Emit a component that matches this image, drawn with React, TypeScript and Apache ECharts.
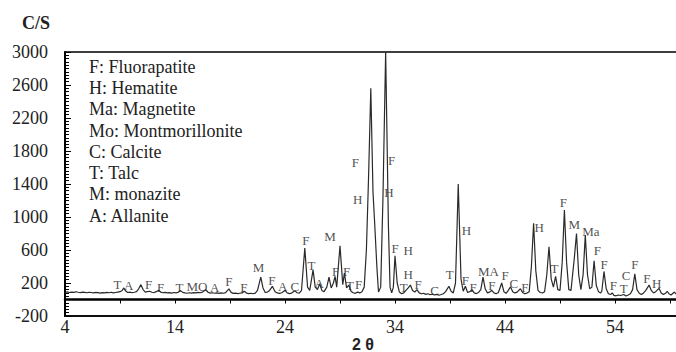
import React, { useEffect, useRef } from "react";
import * as echarts from "echarts";

const twoTheta = [
  4.0, 4.2, 4.4, 4.6, 4.8, 5.0, 5.2, 5.4, 5.6, 5.8, 6.0, 6.2, 6.4, 6.6, 6.8, 7.0, 7.2, 7.4, 7.6, 7.8,
  8.0, 8.2, 8.4, 8.6, 8.8, 9.0, 9.2, 9.35, 9.5, 9.7, 9.9, 10.1, 10.3, 10.5, 10.7, 10.9, 11.1, 11.3, 11.5, 11.7,
  11.9, 12.1, 12.3, 12.5, 12.7, 12.9, 13.1, 13.3, 13.5, 13.7, 13.9, 14.1, 14.3, 14.5, 14.7, 14.9, 15.1, 15.3, 15.5, 15.7,
  15.9, 16.1, 16.3, 16.5, 16.8, 17.0, 17.2, 17.4, 17.6, 17.8, 18.0, 18.2, 18.4, 18.6, 18.9, 19.1, 19.3, 19.5, 19.7, 19.9,
  20.1, 20.3, 20.5, 20.7, 20.9, 21.1, 21.3, 21.5, 21.8, 22.0, 22.2, 22.4, 22.6, 22.85, 23.1, 23.3, 23.5, 23.7, 24.0, 24.2,
  24.4, 24.6, 24.9, 25.1, 25.3, 25.5, 25.8, 26.05, 26.25, 26.55, 26.75, 26.95, 27.15, 27.35, 27.55, 27.8, 28.0, 28.2, 28.4, 28.55,
  28.7, 29.0, 29.25, 29.4, 29.6, 29.8, 30.0, 30.2, 30.4, 30.6, 30.8, 31.0, 31.2, 31.4, 31.6, 31.8, 32.0, 32.15, 32.35, 32.5,
  32.7, 32.9, 33.15, 33.4, 33.55, 33.7, 33.85, 34.0, 34.2, 34.4, 34.6, 34.8, 35.0, 35.2, 35.4, 35.6, 35.8, 36.0, 36.2, 36.4,
  36.6, 36.8, 37.0, 37.2, 37.4, 37.6, 37.8, 38.0, 38.2, 38.4, 38.6, 38.9, 39.1, 39.3, 39.5, 39.75, 40.0, 40.2, 40.4, 40.6,
  40.8, 41.0, 41.2, 41.4, 41.6, 41.8, 42.0, 42.2, 42.4, 42.6, 42.8, 43.0, 43.2, 43.4, 43.7, 43.9, 44.1, 44.3, 44.5, 44.7,
  44.9, 45.1, 45.4, 45.6, 45.8, 46.0, 46.2, 46.4, 46.6, 46.8, 47.0, 47.2, 47.4, 47.6, 47.8, 48.0, 48.2, 48.4, 48.6, 48.8,
  49.0, 49.2, 49.4, 49.6, 49.8, 50.0, 50.3, 50.5, 50.7, 50.9, 51.1, 51.3, 51.5, 51.7, 51.9, 52.1, 52.3, 52.5, 52.7, 52.8,
  53.0, 53.2, 53.4, 53.6, 53.75, 53.9, 54.1, 54.3, 54.5, 54.8, 55.0, 55.2, 55.4, 55.6, 55.8, 56.0, 56.2, 56.4, 56.6, 56.8,
  57.1, 57.3, 57.5, 57.7, 58.0, 58.2, 58.4, 58.6, 58.75, 58.9, 59.1, 59.4, 59.6, 59.8, 60.0,
];

const counts = [
  88, 92, 85, 90, 86, 94, 88, 84, 90, 87, 82, 88, 85, 80, 86, 83, 78, 84, 80, 86,
  82, 88, 80, 85, 90, 95, 110, 140, 105, 85, 90, 82, 88, 95, 130, 180, 120, 90, 95, 100,
  88, 84, 95, 112, 90, 82, 86, 80, 84, 78, 85, 80, 88, 108, 86, 80, 76, 82, 78, 84,
  80, 86, 82, 90, 118, 88, 78, 82, 76, 80, 74, 80, 76, 84, 130, 86, 74, 78, 72, 76,
  80, 100, 78, 72, 76, 70, 78, 110, 270, 140, 85, 90, 110, 160, 95, 80, 74, 82, 110, 80,
  72, 78, 105, 82, 78, 110, 625, 150, 110, 360, 150, 120, 190, 110, 95, 150, 270, 140, 200, 280,
  150, 650, 180, 320, 140, 175, 100, 82, 75, 90, 80, 95, 150, 600, 1500, 2560, 1300, 930, 400, 90,
  150, 1200, 3000, 900, 150, 80, 150, 530, 200, 90, 70, 80, 110, 140, 175, 110, 90, 120, 80, 70,
  75, 62, 70, 58, 65, 55, 62, 52, 60, 70, 95, 160, 100, 80, 200, 1400, 250, 100, 160, 85,
  95, 120, 80, 72, 85, 120, 270, 130, 80, 90, 110, 80, 70, 85, 200, 95, 75, 110, 155, 95,
  80, 90, 130, 85, 70, 78, 95, 400, 925, 350, 110, 85, 80, 95, 300, 640, 250, 150, 280, 120,
  110, 450, 1085, 450, 120, 110, 500, 800, 300, 120, 300, 780, 300, 130, 150, 470, 170, 95, 80, 100,
  340, 130, 70, 60, 80, 50, 45, 55, 48, 60, 42, 55, 70, 120, 310, 120, 75, 60, 80, 110,
  175, 110, 80, 95, 135, 80, 60, 75, 100, 70, 55, 90, 60, 55, 50,
];

const peakLabelText = [
  "T", "A", "F", "F", "T", "MO", "A", "F", "F", "M", "F", "A", "C", "F", "T", "A", "M", "F", "F", "T", "F",
  "F", "H", "F", "H", "F", "H", "H", "T", "F", "C", "T", "H", "F", "F",
  "MA", "F", "F", "C", "F", "H", "T", "F", "M", "Ma", "F", "F", "F", "T", "C", "F", "F", "H",
];
const peakLabelTheta = [
  8.76, 9.8, 11.6, 12.7, 14.4, 16.0, 17.6, 18.9, 20.27, 21.6, 22.8, 23.8, 24.9, 25.9, 26.4, 27.1, 28.1, 28.6, 29.6, 29.9, 30.7,
  30.4, 30.6, 33.7, 33.45, 34.0, 35.2, 35.2, 34.8, 36.1, 37.6, 38.97, 40.5, 40.4, 41.1,
  42.5, 44.0, 42.8, 44.8, 45.8, 47.1, 48.5, 49.3, 50.3, 51.8, 52.4, 53.0, 53.85, 54.8, 55.0, 55.8, 56.9, 57.8,
];
const peakLabelCount = [
  184, 167, 176, 148, 148, 155, 140, 216, 148, 390, 236, 155, 155, 713, 418, 196, 761, 337, 337, 164, 184,
  1663, 1218, 1683, 1300, 620, 600, 297, 148, 176, 107, 309, 842, 236, 148,
  337, 285, 167, 188, 148, 875, 378, 1174, 915, 830, 592, 427, 164, 128, 290, 430, 257, 188,
];

const legendLines = [
  "F: Fluorapatite",
  "H: Hematite",
  "Ma: Magnetite",
  "Mo: Montmorillonite",
  "C: Calcite",
  "T: Talc",
  "M: monazite",
  "A: Allanite",
];

const xTickLabels = [4, 14, 24, 34, 44, 54];

export default function App() {
  const ref = useRef<HTMLDivElement>(null);
  useEffect(() => {
    if (!ref.current) return;
    const chart = echarts.init(ref.current, undefined, { renderer: "svg" });
    const serif = "Liberation Serif, DejaVu Serif, serif";
    const option: any = {
      animation: false,
      backgroundColor: "#fff",
      textStyle: { fontFamily: serif },
      grid: {
        left: 65,
        right: -5,
        top: 52,
        bottom: 36,
        show: true,
        borderColor: "#000",
        borderWidth: 1.5,
        containLabel: false,
        outerBoundsMode: "none",
      },
      xAxis: [
        {
          type: "value",
          min: 4,
          max: 60,
          interval: 5,
          axisLine: { show: true, onZero: true, lineStyle: { color: "#000", width: 2.5 } },
          axisTick: { show: true, inside: false, length: 4, lineStyle: { color: "#000", width: 1 } },
          axisLabel: { show: false },
          splitLine: { show: false },
        },
        {
          type: "value",
          min: 4,
          max: 60,
          interval: 10,
          position: "bottom",
          axisLine: { show: true, onZero: false, lineStyle: { color: "#000", width: 1.5 } },
          axisTick: { show: false },
          axisLabel: {
            show: true,
            fontSize: 18,
            fontFamily: serif,
            color: "#222",
            margin: 2,
            formatter: (v: number) => (xTickLabels.includes(v) ? String(v) : ""),
          },
          splitLine: { show: false },
        },
      ],
      yAxis: {
        type: "value",
        min: -200,
        max: 3000,
        interval: 400,
        axisLine: { show: true, lineStyle: { color: "#000", width: 2 } },
        axisTick: { show: true, inside: true, length: 6, lineStyle: { color: "#000" } },
        minorTick: { show: true, splitNumber: 10, length: 4, lineStyle: { color: "#000" } },
        axisLabel: {
          fontSize: 18,
          fontFamily: serif,
          color: "#222",
          margin: 17,
          formatter: (v: number) => String(v),
        },
        splitLine: { show: false },
      },
      series: [
        {
          type: "line",
          xAxisIndex: 0,
          data: twoTheta.map((x, i) => [x, counts[i]]),
          showSymbol: false,
          symbol: "none",
          clip: true,
          lineStyle: { color: "#2a2a2a", width: 1.2 },
        },
        {
          type: "scatter",
          xAxisIndex: 0,
          symbolSize: 0,
          data: peakLabelText.map((t, i) => ({ name: t, value: [peakLabelTheta[i], peakLabelCount[i]] })),
          label: {
            show: true,
            position: "inside",
            formatter: (p: any) => p.name,
            fontSize: 13,
            fontFamily: serif,
            color: "#222",
          },
        },
      ],
      graphic: [
        {
          type: "text",
          x: 36,
          y: 23,
          style: {
            text: "C/S",
            fontSize: 18,
            fontWeight: "bold",
            fontFamily: serif,
            fill: "#222",
            textAlign: "center",
            textVerticalAlign: "middle",
          },
        },
        {
          type: "text",
          x: 363,
          y: 344,
          style: {
            text: "2 θ",
            fontSize: 16,
            fontWeight: "bold",
            fontFamily: "Liberation Sans, Arial, sans-serif",
            fill: "#222",
            textAlign: "center",
            textVerticalAlign: "middle",
          },
        },
        {
          type: "text",
          x: 89,
          y: 56,
          style: {
            text: legendLines.join("\n"),
            fontSize: 18,
            fontFamily: serif,
            lineHeight: 21.3,
            fill: "#222",
            textAlign: "left",
            textVerticalAlign: "top",
          },
        },
      ],
    };
    chart.setOption(option);
    return () => chart.dispose();
  }, []);
  return (
    <div
      ref={ref}
      style={{ position: "fixed", left: 0, top: 0, width: 676, height: 352, background: "#fff" }}
    />
  );
}
